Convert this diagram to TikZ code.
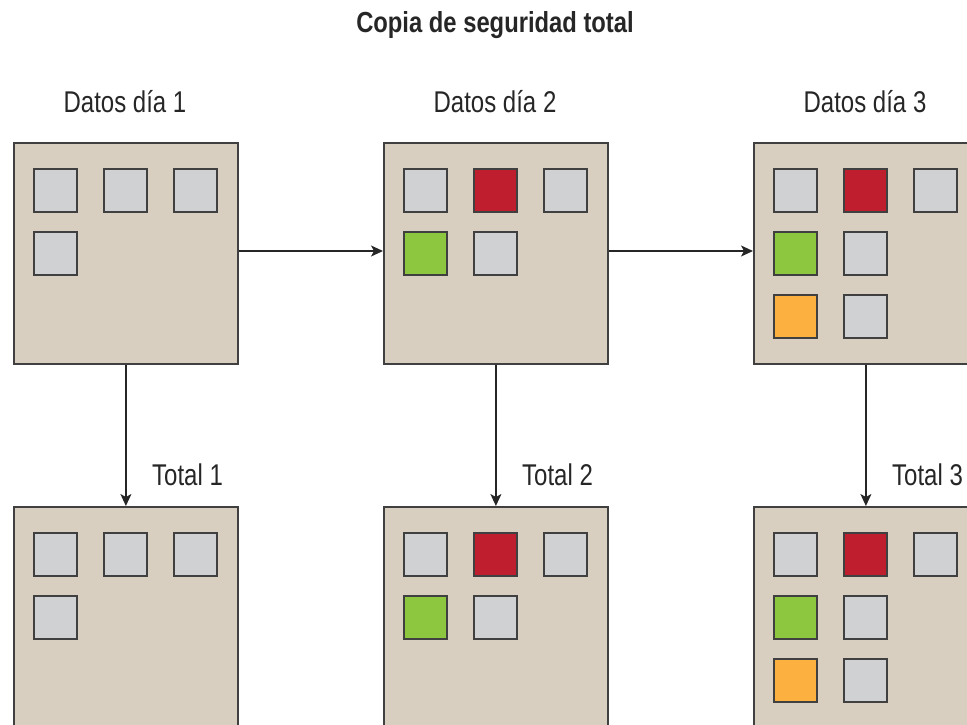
\documentclass[tikz,border=0pt]{standalone}
\usepackage{fontspec}
\setmainfont{Liberation Sans}
\newfontfamily\lblfont[FakeStretch=0.80]{Liberation Sans}
\newfontfamily\ttlfont[FakeStretch=0.82]{Liberation Sans}
\usetikzlibrary{arrows.meta}
\definecolor{boxfill}{HTML}{D8CFC0}
\definecolor{sqgray}{HTML}{D0D1D3}
\definecolor{sqred}{HTML}{BE1E2D}
\definecolor{sqgreen}{HTML}{8DC63F}
\definecolor{sqorange}{HTML}{FBB040}
\definecolor{edge}{HTML}{404040}
\begin{document}
\begin{tikzpicture}[x=1pt,y=-1pt,
  databox/.style={draw=edge,line width=1.8pt,fill=boxfill,minimum width=224pt,minimum height=221pt,inner sep=0pt,anchor=north west,rectangle},
  sq/.style={draw=edge,line width=2pt,minimum size=43pt,inner sep=0pt,anchor=north west,rectangle},
  lbl/.style={font=\lblfont\fontsize{30}{30}\selectfont,inner sep=0pt,text=black!85},
  ttl/.style={font=\ttlfont\bfseries\fontsize{29}{29}\selectfont,inner sep=0pt,text=black!85},
  conn/.style={draw=black!85,line width=1.3pt,-{Stealth[length=12pt,width=11pt,inset=3pt]}}
]
\useasboundingbox (0,0) rectangle (967,725);
\clip (0,0) rectangle (967,725);
\node[ttl,anchor=base] (title) at (495,33) {Copia de seguridad total};
% box column x positions: 13, 383, 753 ; rows y: 142, 506
\foreach \c/\bx in {1/13,2/383,3/753}{
  \node[lbl,anchor=base] (lab\c) at (\bx+112,113) {Datos día \c};
  \node[lbl,anchor=base west] (tot\c) at (\bx+139,485) {Total \c};
}
\foreach \r/\by in {t/142,b/506}{
  \foreach \c/\bx in {1/13,2/383,3/753}{
    \node[databox] (box\r\c) at (\bx,\by) {};
  }
  % box 1
  \node[sq,fill=sqgray] (s\r11) at (33,\by+26) {};
  \node[sq,fill=sqgray] (s\r12) at (103,\by+26) {};
  \node[sq,fill=sqgray] (s\r13) at (173,\by+26) {};
  \node[sq,fill=sqgray] (s\r14) at (33,\by+89) {};
  % box 2
  \node[sq,fill=sqgray] (s\r21) at (403,\by+26) {};
  \node[sq,fill=sqred] (s\r22) at (473,\by+26) {};
  \node[sq,fill=sqgray] (s\r23) at (543,\by+26) {};
  \node[sq,fill=sqgreen] (s\r24) at (403,\by+89) {};
  \node[sq,fill=sqgray] (s\r25) at (473,\by+89) {};
  % box 3
  \node[sq,fill=sqgray] (s\r31) at (773,\by+26) {};
  \node[sq,fill=sqred] (s\r32) at (843,\by+26) {};
  \node[sq,fill=sqgray] (s\r33) at (913,\by+26) {};
  \node[sq,fill=sqgreen] (s\r34) at (773,\by+89) {};
  \node[sq,fill=sqgray] (s\r35) at (843,\by+89) {};
  \node[sq,fill=sqorange] (s\r36) at (773,\by+152) {};
  \node[sq,fill=sqgray] (s\r37) at (843,\by+152) {};
}
\path[conn] (boxt1.east |- 0,251) -- (boxt2.west |- 0,251);
\path[conn] (boxt2.east |- 0,251) -- (boxt3.west |- 0,251);
\foreach \c in {1,2,3}{
  \path[conn] (boxt\c.south) -- (boxb\c.north);
}
\end{tikzpicture}
\end{document}
